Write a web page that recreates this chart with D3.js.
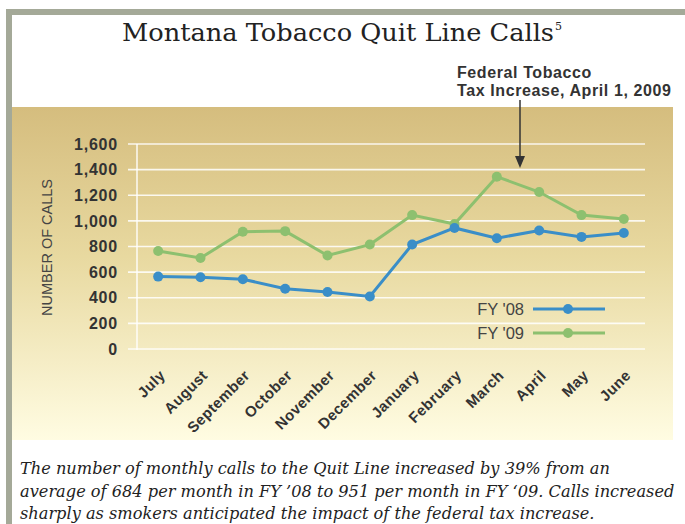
<!DOCTYPE html>
<html>
<head>
<meta charset="utf-8">
<script src="https://cdn.jsdelivr.net/npm/d3@7"></script>
<style>
  body { margin: 0; background: #fff; }
  svg { display: block; }
</style>
</head>
<body>
<div id="chart"></div>
<script>
// --------------------------------------
//  Data
// --------------------------------------
const months = ["July", "August", "September", "October", "November", "December",
  "January", "February", "March", "April", "May", "June"];
const fy08 = [565, 560, 545, 470, 445, 410, 815, 945, 865, 925, 875, 905];
const fy09 = [765, 710, 915, 920, 730, 815, 1045, 975, 1345, 1225, 1045, 1015];
const yTicks = [0, 200, 400, 600, 800, 1000, 1200, 1400, 1600];
const seriesNames = ["FY '08", "FY '09"];
const footnote = [
  "The number of monthly calls to the Quit Line increased by 39% from an",
  "average of 684 per month in FY \u201908 to 951 per month in FY \u201809. Calls increased",
  "sharply as smokers anticipated the impact of the federal tax increase."
];

// --------------------------------------
//  Canvas
// --------------------------------------
const width = 685, height = 524;
const sans = "Liberation Sans, Arial, sans-serif";
const svg = d3.select("#chart").append("svg")
  .attr("width", width).attr("height", height);

const defs = svg.append("defs");
const grad = defs.append("linearGradient")
  .attr("id", "panelGrad").attr("x1", 0).attr("y1", 0).attr("x2", 0).attr("y2", 1);
grad.append("stop").attr("offset", "0%").attr("stop-color", "#d5bd7e");
grad.append("stop").attr("offset", "45%").attr("stop-color", "#e8d9a0");
grad.append("stop").attr("offset", "100%").attr("stop-color", "#fffce2");

// frame
svg.append("rect").attr("x", 6).attr("y", 9).attr("width", width - 6).attr("height", 6)
  .attr("fill", "#a4a998");
svg.append("rect").attr("x", 6).attr("y", 9).attr("width", 6).attr("height", height - 9)
  .attr("fill", "#a4a998");

// panel
svg.append("rect").attr("x", 12).attr("y", 107).attr("width", 661).attr("height", 333)
  .attr("fill", "url(#panelGrad)");

// title
const title = svg.append("text")
  .attr("x", 122).attr("y", 41)
  .attr("font-family", "DejaVu Serif")
  .attr("font-size", 24)
  .attr("fill", "#222");
title.append("tspan").attr("textLength", 432).attr("lengthAdjust", "spacingAndGlyphs")
  .text("Montana Tobacco Quit Line Calls");
title.append("tspan").attr("font-size", 11).attr("dy", -11).attr("dx", 1).text("5");

// --------------------------------------
//  Scales
// --------------------------------------
const x = d3.scalePoint().domain(months).range([137, 645]).padding(0.5);
const y = d3.scaleLinear().domain([0, 1600]).range([349, 144]);

// grid
svg.append("g").selectAll("line").data(yTicks).join("line")
  .attr("x1", 128).attr("x2", 645)
  .attr("y1", d => y(d)).attr("y2", d => y(d))
  .attr("stroke", "#fff").attr("stroke-opacity", 0.85).attr("stroke-width", 1.6);
svg.append("line")
  .attr("x1", 137).attr("x2", 137).attr("y1", y(1600)).attr("y2", y(0) + 1)
  .attr("stroke", "#fff").attr("stroke-opacity", 0.85).attr("stroke-width", 1.6);

// y axis
const yAxis = svg.append("g")
  .attr("transform", "translate(118,0)")
  .call(d3.axisLeft(y).tickValues(yTicks).tickSize(0).tickPadding(0).tickFormat(d3.format(",")));
yAxis.select(".domain").remove();
yAxis.selectAll("text")
  .attr("font-family", sans)
  .attr("font-weight", "bold").attr("font-size", 16).attr("letter-spacing", 0.8)
  .attr("fill", "#333");

svg.append("text")
  .attr("transform", `translate(52,${y(800) + 1}) rotate(-90)`)
  .attr("text-anchor", "middle")
  .attr("font-family", sans)
  .attr("font-size", 14.5).attr("fill", "#444")
  .text("NUMBER OF CALLS");

// x axis labels
const xAxis = svg.append("g")
  .attr("transform", "translate(0,369)")
  .call(d3.axisBottom(x).tickSize(0).tickPadding(0));
xAxis.select(".domain").remove();
xAxis.selectAll("text")
  .attr("font-family", sans)
  .attr("font-weight", "bold").attr("font-size", 15).attr("letter-spacing", 0.4)
  .attr("fill", "#333")
  .attr("text-anchor", "end").attr("y", 0).attr("dy", "0.7em")
  .attr("transform", "rotate(-45)");

// --------------------------------------
//  Lines
// --------------------------------------
const colors = ["#3a8ec8", "#8dc06f"];
const line = d3.line().x((d, i) => x(months[i])).y(d => y(d));

[fy09, fy08].forEach((series, k) => {
  const c = colors[1 - k];
  const g = svg.append("g");
  g.append("path").attr("d", line(series))
    .attr("fill", "none").attr("stroke", c).attr("stroke-width", 3);
  g.selectAll("circle").data(series).join("circle")
    .attr("cx", (d, i) => x(months[i])).attr("cy", d => y(d)).attr("r", 5)
    .attr("fill", c);
});

// legend
const legend = svg.append("g");
seriesNames.forEach((name, i) => {
  const ly = 309 + i * 24;
  legend.append("text").attr("x", 524).attr("y", ly + 6)
    .attr("text-anchor", "end")
    .attr("font-family", sans)
    .attr("font-size", 16.5).attr("fill", "#444").text(name);
  legend.append("line").attr("x1", 533).attr("x2", 605).attr("y1", ly).attr("y2", ly)
    .attr("stroke", colors[i]).attr("stroke-width", 3);
  legend.append("circle").attr("cx", 568).attr("cy", ly).attr("r", 5).attr("fill", colors[i]);
});

// annotation
const ax = (x("March") + x("April")) / 2 + 2;
const note = svg.append("g")
  .attr("font-family", sans)
  .attr("font-weight", "bold").attr("font-size", 16).attr("letter-spacing", 0.6)
  .attr("fill", "#333");
note.append("text").attr("x", 457).attr("y", 78).text("Federal Tobacco");
note.append("text").attr("x", 457).attr("y", 96).text("Tax Increase, April 1, 2009");
svg.append("line").attr("x1", ax).attr("x2", ax).attr("y1", 100).attr("y2", 158)
  .attr("stroke", "#333").attr("stroke-width", 1.5);
svg.append("path")
  .attr("d", `M${ax - 5},156 L${ax + 5},156 L${ax},168 Z`)
  .attr("fill", "#333");

// footnote
svg.append("g").selectAll("text").data(footnote).join("text")
  .attr("x", 20).attr("y", (d, i) => 474 + i * 22.5)
  .attr("font-family", "DejaVu Serif")
  .attr("font-style", "italic").attr("font-size", 16.2).attr("fill", "#222")
  .text(d => d);
</script>
</body>
</html>
